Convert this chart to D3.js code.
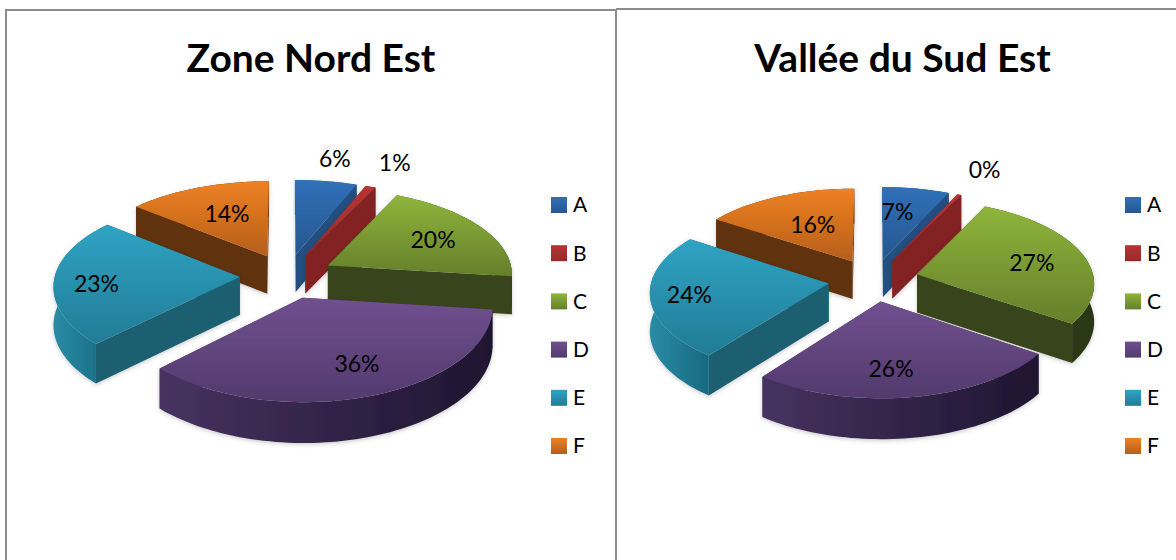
<!DOCTYPE html>
<html>
<head>
<meta charset="utf-8">
<script src="https://d3js.org/d3.v7.min.js"></script>
<style>
  html, body { margin: 0; padding: 0; background: #fff; overflow: hidden; }
  text { font-family: Lato, "Open Sans", sans-serif; fill: #000; }
</style>
</head>
<body>
<div id="chart"></div>
<script>
var categories = ["A", "B", "C", "D", "E", "F"];

var nordEstValues = [6, 1, 20, 35.6, 23.4, 14];
var sudEstValues = [6.8, 0.4, 27.4, 25.8, 24, 15.6];

var titles = ["Zone Nord Est", "Vallée du Sud Est"];

// [top light, top dark, radial wall, outer wall light, outer wall dark]
var colors = [
  ["#3070b8", "#26578f", "#24507f", "#2a5f98", "#1f4674"],
  ["#b83434", "#962b2b", "#822424", "#8f2828", "#701f1f"],
  ["#8fb53b", "#647f2b", "#39451a", "#394619", "#2b3612"],
  ["#70508f", "#523a6d", "#3b2b52", "#463360", "#1f1530"],
  ["#2fa3c3", "#217c96", "#1c5f70", "#2b8ba6", "#176a80"],
  ["#ee8122", "#b55e1a", "#60300e", "#6c370f", "#4e280a"]
];

var width = 1176, height = 560;

var svg = d3.select("#chart").append("svg")
  .attr("width", width)
  .attr("height", height);

var defs = svg.append("defs");

var blur = defs.append("filter").attr("id", "soft")
  .attr("x", "-10%").attr("y", "-10%").attr("width", "120%").attr("height", "125%");
blur.append("feDropShadow")
  .attr("dx", 0).attr("dy", 1.5).attr("stdDeviation", 2)
  .attr("flood-color", "#000").attr("flood-opacity", 0.2);

colors.forEach(function(c, i) {
  var top = defs.append("linearGradient").attr("id", "top" + i)
    .attr("x1", 0).attr("y1", 0).attr("x2", 0).attr("y2", 1);
  top.append("stop").attr("offset", "0%").attr("stop-color", c[0]);
  top.append("stop").attr("offset", "100%").attr("stop-color", c[1]);

  var side = defs.append("linearGradient").attr("id", "side" + i)
    .attr("x1", 0).attr("y1", 0).attr("x2", 1).attr("y2", 0);
  side.append("stop").attr("offset", "0%").attr("stop-color", c[3]);
  side.append("stop").attr("offset", "100%").attr("stop-color", c[4]);
});

// outline of the two panels
var frame = svg.append("g").attr("fill", "none").attr("stroke", "#8c8c8c").attr("stroke-width", 2);
frame.append("path").attr("d", "M6,560V10H616V560");
frame.append("path").attr("d", "M616,9H1176");

var pie = d3.pie().sort(null).value(function(d) { return d; });
var line = d3.line().x(function(d) { return d[0]; }).y(function(d) { return d[1]; });
var percent = d3.format(".0%");

function drawPie(values, o) {
  var total = d3.sum(values);
  var slices = pie(values);

  // x and y take different amounts of perspective, it fits the picture better
  function project(u, v, z) {
    var wx = 1 / (1 - o.perspX * v);
    var wy = 1 / (1 - o.persp * v);
    return [o.cx + o.rx * u * wx, o.cy + o.ry * v * wy + o.depth * z * (1 + 0.06 * v)];
  }

  var g = svg.append("g");

  // far slices first, the front one last
  var order = slices.map(function(s, i) {
    var mid = (s.startAngle + s.endAngle) / 2;
    return { s: s, i: i, mid: mid, ox: o.explode * Math.sin(mid), oy: -o.explode * Math.cos(mid) };
  }).sort(function(a, b) { return a.oy - b.oy; });

  order.forEach(function(d) {
    var s = d.s;
    var steps = Math.max(2, Math.ceil((s.endAngle - s.startAngle) / 0.03));
    var angles = d3.range(steps + 1).map(function(k) {
      return s.startAngle + (s.endAngle - s.startAngle) * k / steps;
    });
    var rim = angles.map(function(a) {
      return [d.ox + Math.sin(a), d.oy - Math.cos(a)];
    });
    var apex = [d.ox, d.oy];
    var first = rim[0], last = rim[rim.length - 1];

    function wall(a, b) {
      return [project(a[0], a[1], 0), project(b[0], b[1], 0), project(b[0], b[1], 1), project(a[0], a[1], 1)];
    }

    var outer = rim.map(function(p) { return project(p[0], p[1], 0); })
      .concat(rim.slice().reverse().map(function(p) { return project(p[0], p[1], 1); }));

    var walls = [
      { pts: wall(apex, first), v: (apex[1] + first[1]) / 2, fill: colors[d.i][2] },
      { pts: wall(apex, last), v: (apex[1] + last[1]) / 2, fill: colors[d.i][2] },
      { pts: outer, v: d3.mean(rim, function(p) { return p[1]; }), fill: "url(#side" + d.i + ")" }
    ].sort(function(a, b) { return a.v - b.v; });

    var sg = g.append("g").attr("filter", "url(#soft)");

    walls.forEach(function(w) {
      sg.append("path")
        .attr("d", line(w.pts) + "Z")
        .attr("fill", w.fill);
    });

    var face = [project(apex[0], apex[1], 0)].concat(rim.map(function(p) { return project(p[0], p[1], 0); }));
    sg.append("path")
      .attr("d", line(face) + "Z")
      .attr("fill", "url(#top" + d.i + ")");
  });

  // labels sit along each slice's own radius
  slices.forEach(function(s, i) {
    var mid = (s.startAngle + s.endAngle) / 2;
    var a = mid + o.labelTurn[i] * Math.PI / 180;
    var u = o.explode * Math.sin(mid) + o.labelFrac[i] * Math.sin(a);
    var v = -o.explode * Math.cos(mid) - o.labelFrac[i] * Math.cos(a);
    var p = project(u, v, 0);
    g.append("text")
      .attr("x", p[0])
      .attr("y", p[1])
      .attr("dy", "0.35em")
      .attr("text-anchor", "middle")
      .attr("font-size", 23)
      .text(percent(s.value / total));
  });

  g.append("text")
    .attr("x", o.titleX)
    .attr("y", 58)
    .attr("dy", "0.35em")
    .attr("text-anchor", "middle")
    .attr("font-size", 39)
    .attr("font-weight", 700)
    .text(o.title);

  var legendY = d3.scalePoint().domain(categories).range([205, 446]);

  var legend = g.selectAll(".legend")
    .data(categories)
    .enter().append("g")
    .attr("class", "legend")
    .attr("transform", function(d) { return "translate(" + o.legendX + "," + legendY(d) + ")"; });

  legend.append("rect")
    .attr("x", 0).attr("y", -8)
    .attr("width", 16).attr("height", 16)
    .attr("fill", function(d, i) { return "url(#top" + i + ")"; });

  legend.append("text")
    .attr("x", 22)
    .attr("dy", "0.35em")
    .attr("font-size", 21)
    .text(function(d) { return d; });
}

drawPie(nordEstValues, {
  title: titles[0], titleX: 311, legendX: 551,
  cx: 287, cy: 276, rx: 185, ry: 87.5, persp: 0.112, perspX: 0.09, explode: 0.255, depth: 38,
  labelFrac: [1.347, 1.394, 0.675, 0.717, 0.771, 0.596],
  labelTurn: [-0.2, 0.3, 1, -3, -3.6, 1.6]
});

drawPie(sudEstValues, {
  title: titles[1], titleX: 902.5, legendX: 1125,
  cx: 873.5, cy: 280, rx: 177, ry: 83.2, persp: 0.095, perspX: 0.09, explode: 0.256, depth: 38,
  labelFrac: [0.643, 1.42, 0.68, 0.722, 0.783, 0.545],
  labelTurn: [-4, 0, 2.3, 5, -0.9, 1.4]
});
</script>
</body>
</html>
